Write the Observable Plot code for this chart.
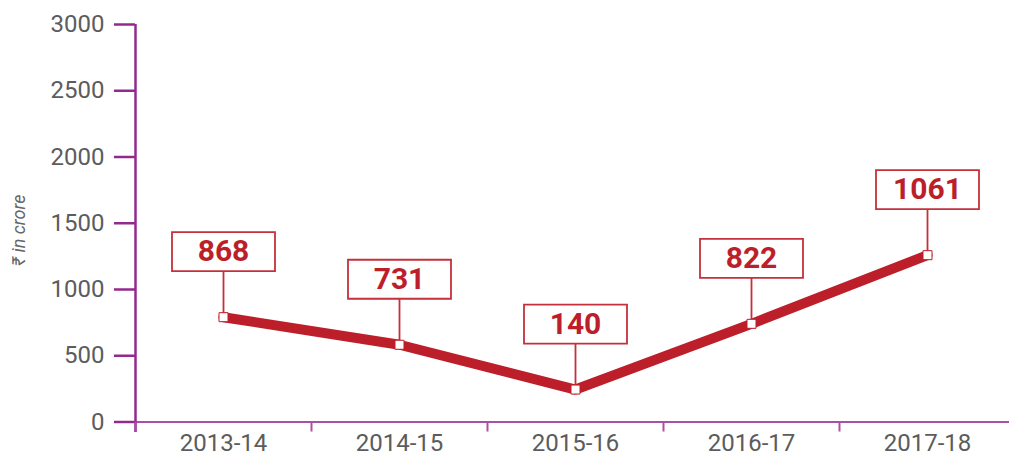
<!DOCTYPE html>
<html>
<head>
<meta charset="utf-8">
<script src="https://cdn.jsdelivr.net/npm/d3@7"></script>
<script src="https://cdn.jsdelivr.net/npm/@observablehq/plot@0.6"></script>
<style>
  html, body { margin: 0; padding: 0; background: #fff; }
  #chart { width: 1009px; height: 462px; }
</style>
</head>
<body>
<div id="chart"></div>
<script>
// Categories (x axis)
const categories = ["2013-14", "2014-15", "2015-16", "2016-17", "2017-18"];
const plotted = [791, 583, 245, 741, 1259];
// Values printed in the callout boxes
const labels = ["868", "731", "140", "822", "1061"];
// Y-axis ticks
const yTicks = [0, 500, 1000, 1500, 2000, 2500, 3000];
const yTitle = "₹ in crore";

const RED = "#bd1f2a";
const PURPLE = "#93288f";
const LIGHT_PURPLE = "#a94fa8";
const GRAY = "#5c5c5c";

const rows = categories.map((c, i) => ({i, c, v: plotted[i], label: labels[i]}));
const centers = d3.range(categories.length);
const boundaries = centers.map(i => i - 0.5);

// Callout symbol: leader line up from the point plus a box above it
const callout = {
  draw(ctx) {
    ctx.moveTo(0, 0); ctx.lineTo(0, -46);
    ctx.moveTo(-51.5, -46); ctx.lineTo(51.5, -46); ctx.lineTo(51.5, -85);
    ctx.lineTo(-51.5, -85); ctx.closePath();
  }
};
const square = { draw(ctx) { ctx.rect(-4.5, -4.5, 9, 9); } };

const chart = Plot.plot({
  width: 1009,
  height: 462,
  marginTop: 24,
  marginBottom: 40.5,
  marginLeft: 135,
  marginRight: 0,
  style: {fontFamily: "Roboto, 'Noto Sans', sans-serif", background: "#fff"},
  x: {type: "linear", domain: [-0.5, categories.length - 0.5], range: [135, 1015]},
  y: {domain: [0, 3000]},
  marks: [
    Plot.ruleY([0], {stroke: LIGHT_PURPLE, strokeWidth: 2}),
    Plot.ruleX([-0.5], {stroke: PURPLE, strokeWidth: 2.5, insetBottom: -10.5}),
    Plot.axisY({ticks: yTicks, tickSize: 21, tickPadding: 10, stroke: PURPLE, strokeWidth: 2.5,
      fill: GRAY, fontSize: 24, label: null, tickFormat: d => String(d)}),
    Plot.axisX({ticks: boundaries, tickSize: 10, stroke: LIGHT_PURPLE, strokeWidth: 2,
      tickFormat: () => "", label: null}),
    Plot.axisX({ticks: centers, tickSize: 0, tickPadding: 12, fill: GRAY, fontSize: 24,
      tickFormat: i => categories[i], label: null, letterSpacing: 1}),
    Plot.text([yTitle], {frameAnchor: "left", textAnchor: "middle", rotate: -90, dx: -116, dy: 7,
      fontSize: 18, letterSpacing: 1, fontStyle: "italic", fill: "#666"}),
    Plot.line(rows, {x: "i", y: "v", stroke: RED, strokeWidth: 10}),
    Plot.dot(rows, {x: "i", y: "v", symbol: callout, fill: "#fff", stroke: "#c4313a", strokeWidth: 1.8}),
    Plot.dot(rows, {x: "i", y: "v", symbol: square, fill: "#fff", stroke: RED, strokeWidth: 1}),
    Plot.text(rows, {x: "i", y: "v", text: "label", dy: -65.5, fontSize: 30, fontWeight: 700, fill: RED})
  ]
});
document.getElementById("chart").appendChild(chart);
</script>
</body>
</html>
